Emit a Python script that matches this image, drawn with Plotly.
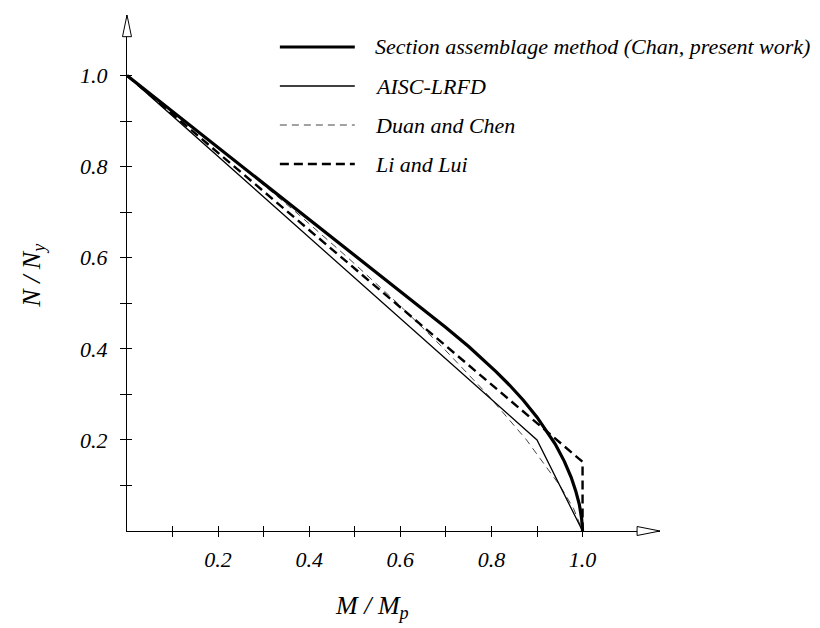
import plotly.graph_objects as go

# ---- data (M/Mp, N/Ny) ----
chan_m = [0.0, 0.1, 0.2, 0.3, 0.4, 0.5, 0.6, 0.65, 0.7, 0.75, 0.78, 0.81, 0.84, 0.87, 0.9, 0.92, 0.94, 0.96, 0.975, 0.985, 0.993, 0.998, 1.0]
chan_n = [1.0, 0.921, 0.842, 0.763, 0.684, 0.605, 0.526, 0.487, 0.447, 0.405, 0.378, 0.350, 0.320, 0.287, 0.250, 0.222, 0.191, 0.153, 0.118, 0.088, 0.058, 0.027, 0.0]

aisc_m = [0.0, 0.9, 1.0]
aisc_n = [1.0, 0.2, 0.0]

duan_m = [0.0, 0.128, 0.252, 0.371, 0.485, 0.594, 0.696, 0.791, 0.877, 0.95, 0.98, 1.0]
duan_n = [1.0, 0.9, 0.8, 0.7, 0.6, 0.5, 0.4, 0.3, 0.2, 0.1, 0.05, 0.0]

lilui_m = [0.0, 1.0, 1.0]
lilui_n = [1.0, 0.152, 0.0]

names = ["Section assemblage method (Chan, present work)", "AISC-LRFD", "Duan and Chen", "Li and Lui"]

label_ticks = [0.2, 0.4, 0.6, 0.8, 1.0]
label_text = ["0.2", "0.4", "0.6", "0.8", "1.0"]
all_ticks = [0.1, 0.2, 0.3, 0.4, 0.5, 0.6, 0.7, 0.8, 0.9, 1.0]
minor_ticks = [0.1, 0.3, 0.5, 0.7, 0.9]

FONT = "Liberation Serif"
styles = [
    dict(color="black", width=3.2, dash="solid"),
    dict(color="black", width=1.3, dash="solid"),
    dict(color="#444444", width=1.0, dash="7px,5px"),
    dict(color="black", width=2.4, dash="9px,5px"),
]

def it(s):
    return f"<i>{s}</i>"

fig = go.Figure()
series = [(chan_m, chan_n), (aisc_m, aisc_n), (duan_m, duan_n), (lilui_m, lilui_n)]
order = [2, 1, 3, 0]
for i in order:
    m, n = series[i]
    fig.add_trace(go.Scatter(x=m, y=n, mode="lines", name=names[i], line=styles[i],
                             showlegend=False, hoverinfo="skip"))

# invisible trace for the overlay axes (inside tick halves)
fig.add_trace(go.Scatter(x=[0.5], y=[0.5], xaxis="x2", yaxis="y2", mode="markers",
                         marker=dict(opacity=0), showlegend=False, hoverinfo="skip"))

XR = [0, 1.17]
YR = [0, 1.133]
tickfont = dict(family=FONT, size=22, color="black")

# page body has an 8px margin, so the figure is 812x620 placed at (8, 8)
fig.update_layout(
    width=812, height=620,
    font=dict(family=FONT, color="black"),
    margin=dict(l=119, r=159.5, t=7, b=97, autoexpand=False),
    paper_bgcolor="white", plot_bgcolor="white",
    xaxis=dict(range=XR, showgrid=False, zeroline=False, showline=True, linecolor="black",
               linewidth=1, ticks="outside", ticklen=5, tickcolor="black", tickwidth=1,
               tickvals=label_ticks, ticktext=[it(t) for t in label_text], tickfont=tickfont,
               minor=dict(tickvals=minor_ticks, ticks="outside", ticklen=5,
                          tickcolor="black", tickwidth=1, showgrid=False),
               ticklabelstandoff=4, fixedrange=True),
    yaxis=dict(range=YR, showgrid=False, zeroline=False, showline=True, linecolor="black",
               linewidth=1, ticks="outside", ticklen=6, tickcolor="black", tickwidth=1,
               tickvals=label_ticks, ticktext=[it(t) for t in label_text], tickfont=tickfont,
               minor=dict(tickvals=minor_ticks, ticks="outside", ticklen=6,
                          tickcolor="black", tickwidth=1, showgrid=False),
               ticklabelstandoff=8, fixedrange=True),
    xaxis2=dict(range=XR, overlaying="x", anchor="y2", side="bottom", showgrid=False,
                zeroline=False, showline=False, ticks="inside", ticklen=5,
                tickcolor="black", tickwidth=1, tickvals=all_ticks, showticklabels=False),
    yaxis2=dict(range=YR, overlaying="y", anchor="x2", side="left", showgrid=False,
                zeroline=False, showline=False, ticks="inside", ticklen=5,
                tickcolor="black", tickwidth=1, tickvals=all_ticks, showticklabels=False),
)

shapes = []
# open arrowheads at axis ends
hx = 4.5 / 533.5
hy = 4.5 / 516.0
shapes.append(dict(type="path", xref="paper", yref="paper",
                   path=f"M 0.957 {hy} L 1.0 0 L 0.957 {-hy} Z",
                   fillcolor="white", line=dict(color="black", width=1), layer="above"))
shapes.append(dict(type="path", xref="paper", yref="paper",
                   path=f"M {-hx} 0.958 L 0 1.0 L {hx} 0.958 Z",
                   fillcolor="white", line=dict(color="black", width=1), layer="above"))

# custom legend
leg_y = [0.938, 0.8624, 0.7868, 0.7112]
x0, x1, xt = 0.2868, 0.4274, 0.462
annotations = []
for k in range(4):
    st = styles[k]
    shapes.append(dict(type="line", xref="paper", yref="paper", x0=x0, x1=x1,
                       y0=leg_y[k], y1=leg_y[k],
                       line=dict(color=st["color"], width=st["width"], dash=st["dash"])))
    annotations.append(dict(xref="paper", yref="paper", x=xt, y=leg_y[k], text=it(names[k]),
                            showarrow=False, xanchor="left", yanchor="middle",
                            font=dict(family=FONT, size=22, color="black")))

annotations.append(dict(xref="paper", yref="paper", x=0.459, y=-0.1476,
                        text="<i>M / M<sub>p</sub></i>", showarrow=False, xanchor="center",
                        yanchor="middle",
                        font=dict(family=FONT, size=26, color="black")))
annotations.append(dict(xref="paper", yref="paper", x=-0.178, y=0.495,
                        text="<i>N / N<sub>y</sub></i>", showarrow=False, xanchor="center",
                        yanchor="middle", textangle=-90,
                        font=dict(family=FONT, size=26, color="black")))

fig.update_layout(shapes=shapes, annotations=annotations)
fig.write_html("out.html")
